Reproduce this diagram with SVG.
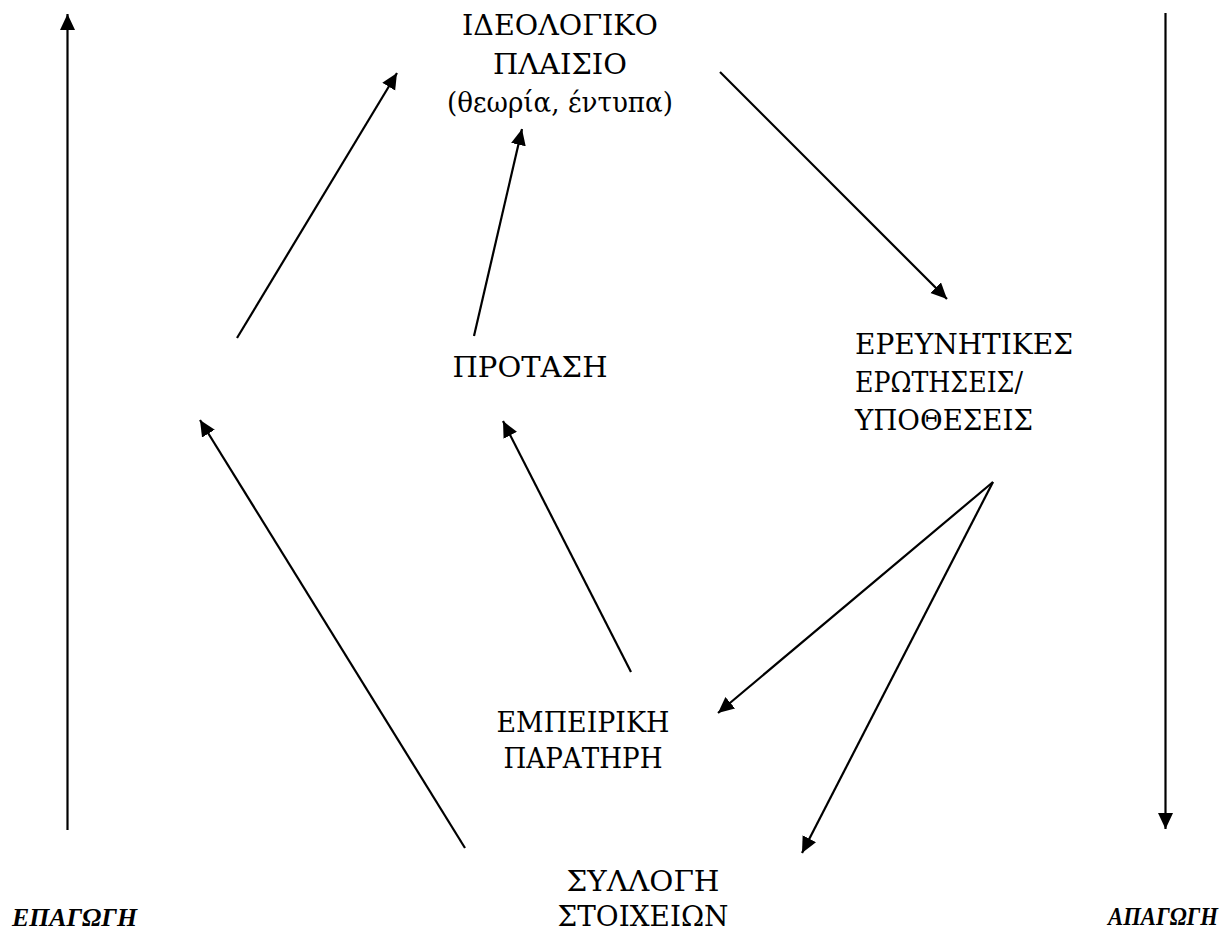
<svg xmlns="http://www.w3.org/2000/svg" width="1228" height="932" viewBox="0 0 1228 932">
<defs>
<style>
.t{font-family:"DejaVu Serif","Liberation Serif",serif;font-size:27px;fill:#000}
.c{text-anchor:middle}
.b{font-family:"Liberation Serif","DejaVu Serif",serif;font-size:25px;font-weight:bold;font-style:italic;fill:#000}
.l{stroke:#000;stroke-width:2.2;fill:none;marker-end:url(#ah)}
</style>
<marker id="ah" markerUnits="userSpaceOnUse" markerWidth="18" markerHeight="16" refX="16" refY="7.5" orient="auto">
<path d="M0,0 L16,7.5 L0,15 z" fill="#000"/>
</marker>
</defs>
<rect width="1228" height="932" fill="#fff"/>
<g id="connectors">
<line class="l" x1="67.5" y1="830" x2="67.5" y2="14"/>
<line class="l" x1="1165.5" y1="13" x2="1165.5" y2="829"/>
<line class="l" x1="237" y1="338" x2="397" y2="73"/>
<line class="l" x1="474" y1="336" x2="522" y2="129"/>
<line class="l" x1="720" y1="72" x2="947" y2="299"/>
<line class="l" x1="993" y1="482" x2="718" y2="713"/>
<line class="l" x1="993" y1="482" x2="802" y2="853"/>
<line class="l" x1="631" y1="672" x2="503" y2="421"/>
<line class="l" x1="465" y1="848" x2="200" y2="420"/>
</g>
<g id="ideologiko">
<text class="t c" x="560" y="35" textLength="196" lengthAdjust="spacingAndGlyphs">ΙΔΕΟΛΟΓΙΚΟ</text>
<text class="t c" x="560" y="74" textLength="134" lengthAdjust="spacingAndGlyphs">ΠΛΑΙΣΙΟ</text>
<text class="t c" x="560" y="112" textLength="226" lengthAdjust="spacingAndGlyphs">(θεωρία, έντυπα)</text>
</g>
<g id="protasi">
<text class="t c" x="530" y="377" textLength="155" lengthAdjust="spacingAndGlyphs">ΠΡΟΤΑΣΗ</text>
</g>
<g id="ereunitikes">
<text class="t" x="855" y="354" textLength="218" lengthAdjust="spacingAndGlyphs">ΕΡΕΥΝΗΤΙΚΕΣ</text>
<text class="t" x="855" y="392" textLength="168" lengthAdjust="spacingAndGlyphs">ΕΡΩΤΗΣΕΙΣ/</text>
<text class="t" x="855" y="430" textLength="178" lengthAdjust="spacingAndGlyphs">ΥΠΟΘΕΣΕΙΣ</text>
</g>
<g id="empeiriki">
<text class="t c" x="583" y="732" textLength="173" lengthAdjust="spacingAndGlyphs">ΕΜΠΕΙΡΙΚΗ</text>
<text class="t c" x="583" y="768" textLength="159" lengthAdjust="spacingAndGlyphs">ΠΑΡΑΤΗΡΗ</text>
</g>
<g id="syllogi">
<text class="t c" x="643" y="891" textLength="153" lengthAdjust="spacingAndGlyphs">ΣΥΛΛΟΓΗ</text>
<text class="t c" x="643" y="926" textLength="171" lengthAdjust="spacingAndGlyphs">ΣΤΟΙΧΕΙΩΝ</text>
</g>
<g id="epagogi">
<text class="b" x="12" y="926" textLength="125" lengthAdjust="spacingAndGlyphs">ΕΠΑΓΩΓΗ</text>
</g>
<g id="apagogi">
<text class="b" x="1108" y="925" textLength="110" lengthAdjust="spacingAndGlyphs">ΑΠΑΓΩΓΗ</text>
</g>
</svg>
